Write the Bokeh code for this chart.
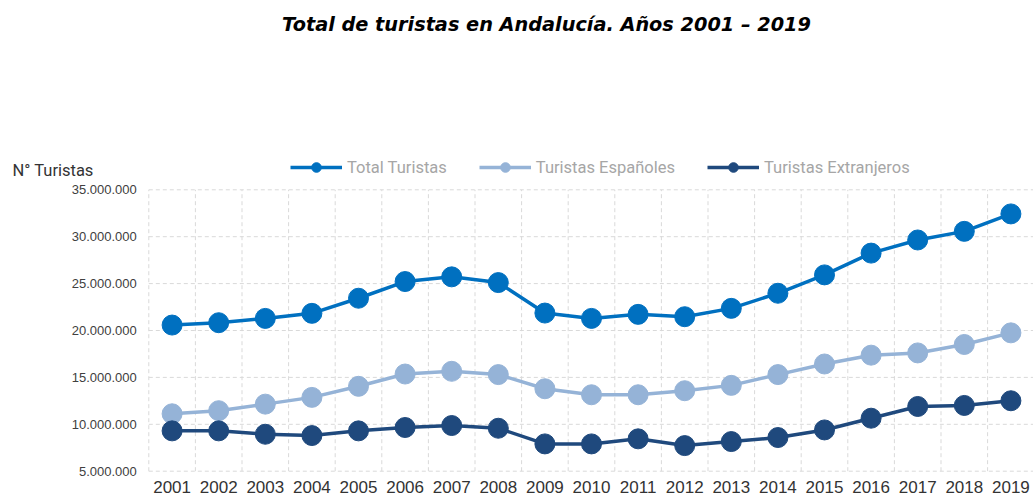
from bokeh.plotting import figure
from bokeh.models import FixedTicker, Label, Legend, LegendItem, Range1d
from bokeh.core.properties import value
from bokeh.embed import file_html
from bokeh.resources import INLINE

years = [2001, 2002, 2003, 2004, 2005, 2006, 2007, 2008, 2009, 2010,
         2011, 2012, 2013, 2014, 2015, 2016, 2017, 2018, 2019]
total = [20580000, 20830000, 21290000, 21830000, 23440000, 25220000, 25720000,
         25110000, 21860000, 21290000, 21720000, 21470000, 22360000, 23970000,
         25930000, 28250000, 29650000, 30570000, 32430000]
espanoles = [11120000, 11450000, 12150000, 12870000, 14050000, 15360000, 15650000,
             15300000, 13790000, 13150000, 13150000, 13580000, 14150000, 15300000,
             16430000, 17370000, 17610000, 18510000, 19750000]
extranjeros = [9300000, 9300000, 8940000, 8800000, 9300000, 9660000, 9870000,
               9580000, 7910000, 7910000, 8450000, 7730000, 8160000, 8590000,
               9400000, 10650000, 11900000, 12010000, 12510000]
series_names = ["Total Turistas", "Turistas Españoles", "Turistas Extranjeros"]
y_ticks = [5000000, 10000000, 15000000, 20000000, 25000000, 30000000, 35000000]
y_tick_labels = ["5.000.000", "10.000.000", "15.000.000", "20.000.000",
                 "25.000.000", "30.000.000", "35.000.000"]
title_text = "Total de turistas en Andalucía. Años 2001 – 2019"
y_title = "N° Turistas"

colors = ["#0070C0", "#95B3D7", "#1F497D"]
grid_color = "#d9d9d9"

# ---- layout (pixels) ----
W, H = 1033, 500
standoff = 3
bottom_border = 20 + standoff
frame_h = H - bottom_border          # frame spans whole width, top of canvas to x axis
grid_left_px = 148.3                  # canvas x of the left edge of the gridded area
step_px = 46.6                        # px per year
grid_top_px = 189.3                   # canvas y of the top gridline
grid_bottom_px = 470.7                # canvas y of the bottom gridline

x_start = years[0] - 0.5 - grid_left_px / step_px
x_end = x_start + W / step_px
y_per_px = (y_ticks[-1] - y_ticks[0]) / (grid_bottom_px - grid_top_px)
y_start = y_ticks[0] - (frame_h - grid_bottom_px) * y_per_px
y_end = y_ticks[-1] + grid_top_px * y_per_px

p = figure(width=W, height=H, output_backend="svg", toolbar_location=None,
           x_range=Range1d(x_start, x_end), y_range=Range1d(y_start, y_end),
           y_axis_location=None,
           min_border_left=0, min_border_right=0, min_border_top=0,
           min_border_bottom=bottom_border)
p.outline_line_color = None
p.background_fill_color = "white"
p.border_fill_color = "white"
p.xgrid.visible = False
p.ygrid.visible = False

# x axis (real)
xa = p.xaxis[0]
xa.ticker = FixedTicker(ticks=years)
xa.major_label_overrides = {y: str(y) for y in years}
xa.axis_line_color = None
xa.major_tick_line_color = None
xa.minor_tick_line_color = None
xa.major_tick_out = 0
xa.major_tick_in = 0
xa.major_label_text_font = "Liberation Sans"
xa.major_label_text_font_size = "17px"
xa.major_label_text_color = "#333333"
xa.major_label_standoff = standoff

# gridlines (dashed) limited to the gridded area
bounds = [y - 0.5 for y in years] + [years[-1] + 0.5]
p.segment(x0=[years[0] - 0.5] * len(y_ticks), x1=[years[-1] + 0.5] * len(y_ticks),
          y0=y_ticks, y1=y_ticks, line_color=grid_color, line_dash="4 3", line_width=1)
p.segment(x0=bounds, x1=bounds, y0=[y_ticks[0]] * len(bounds), y1=[y_ticks[-1]] * len(bounds),
          line_color=grid_color, line_dash="4 3", line_width=1)

# y tick labels
p.text(x=[years[0] - 0.5] * len(y_ticks), y=y_ticks, text=y_tick_labels,
       x_offset=-12, text_align="right", text_baseline="middle",
       text_font=value("Liberation Sans"), text_font_size="13px", text_color="#404040")

items = []
for name, vals, c in zip(series_names, [total, espanoles, extranjeros], colors):
    l = p.line(years, vals, line_color=c, line_width=3.5)
    s = p.scatter(years, vals, size=20, fill_color=c, line_color=c)
    items.append(LegendItem(label=name, renderers=[l, s]))

legend = Legend(items=items, orientation="horizontal", location=(290, frame_h - 179),
                glyph_width=52, glyph_height=24, label_standoff=5, spacing=32,
                padding=0, margin=0, border_line_color=None, background_fill_alpha=0,
                label_text_font="Roboto", label_text_font_size="16.5px",
                label_text_color="#a6a6a6")
p.add_layout(legend)

p.add_layout(Label(x=546, y=frame_h - 24, x_units="screen", y_units="screen", text=title_text,
                   text_align="center", text_baseline="middle", text_font="DejaVu Sans",
                   text_font_size="19.3px", text_font_style="bold italic", text_color="black"))
p.add_layout(Label(x=12, y=frame_h - 170, x_units="screen", y_units="screen", text=y_title,
                   text_align="left", text_baseline="middle", text_font="Roboto",
                   text_font_size="16.5px", text_color="#333333"))

open("out.html", "w").write(file_html(p, INLINE))
